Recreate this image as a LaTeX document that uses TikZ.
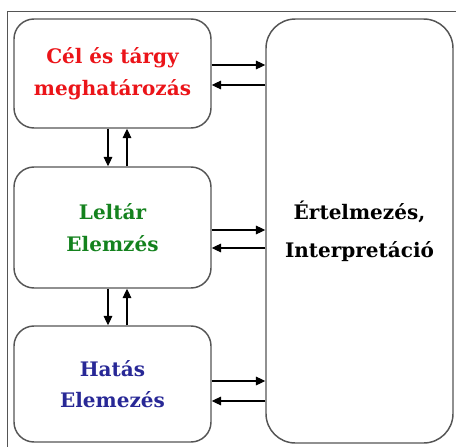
\documentclass[tikz,border=0pt]{standalone}
\usepackage{fontspec}
\setmainfont{DejaVu Serif}
\usetikzlibrary{arrows.meta}
\definecolor{redtxt}{RGB}{235,20,25}
\definecolor{greentxt}{RGB}{20,130,30}
\definecolor{bluetxt}{RGB}{40,40,150}
\definecolor{edge}{RGB}{85,85,85}
\begin{document}
\begin{tikzpicture}[x=0.75pt,y=-0.75pt,
  box/.style={draw=edge, line width=1.1pt, rounded corners=15pt, inner sep=0pt,
    minimum width=147.75pt, align=center},
  txt/.style={font=\bfseries\fontsize{15}{24}\selectfont},
  link/.style={-{Triangle[length=7pt,width=6.5pt]}, line width=0.8pt, black}]
\useasboundingbox (0,0) rectangle (456,446);
\draw[edge, line width=0.75pt] (7,11) rectangle (480,470);
\node[box, txt, minimum height=81.75pt, text=redtxt] (b1) at (112.5,73.5) {Cél és tárgy\\meghatározás};
\node[box, txt, minimum height=90.75pt, text=greentxt] (b2) at (112.5,227.5) {Leltár\\Elemzés};
\node[box, minimum height=87pt, text=bluetxt, font=\bfseries\fontsize{15}{23.25}\selectfont] (b3) at (112.5,384) {Hatás\\Elemezés};
\node[box, rounded corners=22pt, minimum width=140.25pt, minimum height=318pt, font=\bfseries\fontsize{15}{28.5}\selectfont] (big) at (359.5,231) {Értelmezés,\\Interpretáció};
% horizontal links
\draw[link] (b1.east |- 0,65) -- (big.west |- 0,65);
\draw[link] (big.west |- 0,85) -- (b1.east |- 0,85);
\draw[link] (b2.east |- 0,230) -- (big.west |- 0,230);
\draw[link] (big.west |- 0,248) -- (b2.east |- 0,248);
\draw[link] (b3.east |- 0,381) -- (big.west |- 0,381);
\draw[link] (big.west |- 0,401) -- (b3.east |- 0,401);
% vertical links
\draw[link] (b1.south -| 108,0) -- (b2.north -| 108,0);
\draw[link] (b2.north -| 127,0) -- (b1.south -| 127,0);
\draw[link] (b2.south -| 108,0) -- (b3.north -| 108,0);
\draw[link] (b3.north -| 127,0) -- (b2.south -| 127,0);
\end{tikzpicture}
\end{document}
